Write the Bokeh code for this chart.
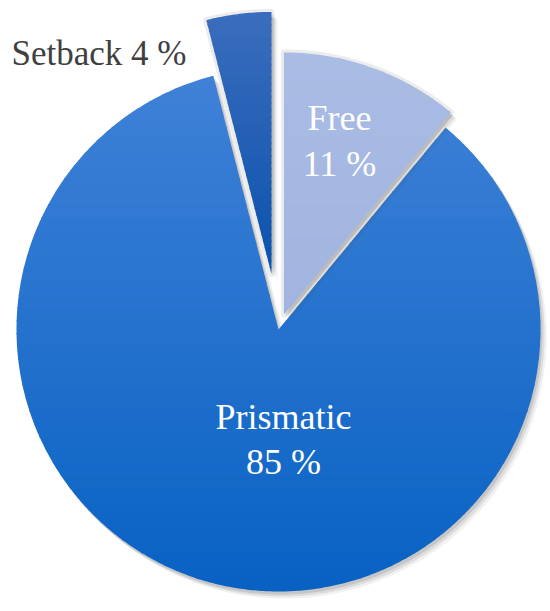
import numpy as np
from bokeh.plotting import figure
from bokeh.models import Range1d
from bokeh.embed import file_html
from bokeh.resources import INLINE
from bokeh.core.properties import value

# ---- data ----
categories = ["Free", "Prismatic", "Setback"]
shares = [11, 85, 4]
pct_labels = ["11 %", "85 %", "4 %"]

# ---- style / layout ----
W, H = 550, 611
cx, cy, R = 278, 282, 262
explode = [16, 0, 56]
top_colors = ["#A9BCE4", "#3F81D7", "#3B6DBD"]
bot_colors = ["#A1B4DF", "#0862C3", "#0A52AD"]
FONT = "Liberation Serif"

p = figure(width=W, height=H, x_range=Range1d(0, W), y_range=Range1d(0, H),
           output_backend="svg", toolbar_location=None, min_border=0)
p.axis.visible = False
p.grid.visible = False
p.outline_line_color = None
p.background_fill_color = "white"


def hex2rgb(h):
    h = h.lstrip("#")
    return np.array([int(h[i:i + 2], 16) for i in (0, 2, 4)], dtype=float)


def rgb2hex(c):
    return "#%02x%02x%02x" % tuple(int(round(v)) for v in c)


def wedge_poly(x0, y0, r, t1, t2):
    n = max(12, int((t2 - t1) * 2))
    ts = np.radians(np.linspace(t1, t2, n))
    xs = x0 + r * np.sin(ts)
    ys = y0 + r * np.cos(ts)
    return list(zip([x0] + list(xs), [y0] + list(ys)))


def _inter(a, b, y):
    t = (y - a[1]) / (b[1] - a[1])
    return (a[0] + t * (b[0] - a[0]), y)


def clip(poly, y, keep_above):
    out = []
    n = len(poly)
    for i in range(n):
        cur, prev = poly[i], poly[i - 1]
        cin = cur[1] >= y if keep_above else cur[1] <= y
        pin = prev[1] >= y if keep_above else prev[1] <= y
        if cin:
            if not pin:
                out.append(_inter(prev, cur, y))
            out.append(cur)
        elif pin:
            out.append(_inter(prev, cur, y))
    return out


total = float(sum(shares))
start = 0.0
order = [1, 0, 2]  # drawing order: Prismatic first, then exploded slices
geo = []
for i, s in enumerate(shares):
    t1 = start
    t2 = start + 360.0 * s / total
    mid = np.radians((t1 + t2) / 2)
    ax = cx + explode[i] * np.sin(mid)
    ay = cy + explode[i] * np.cos(mid)
    geo.append((ax, ay, t1, t2))
    start = t2

for i in order:
    ax, ay, t1, t2 = geo[i]
    # soft shadow (offset down-right)
    for (dx, dy, a) in [(6, -7, 0.08), (4, -5, 0.12), (2, -3, 0.16)]:
        sp = wedge_poly(ax + dx, ay + dy, R, t1, t2)
        p.patch([q[0] for q in sp], [q[1] for q in sp], fill_color="#505050",
                fill_alpha=a, line_color=None)
    if explode[i] > 0:
        # faint glow around the pulled-out slices
        sp = wedge_poly(ax, ay, R, t1, t2)
        p.patch([q[0] for q in sp], [q[1] for q in sp], fill_color=None,
                line_color="#8a8a8a", line_alpha=0.16, line_width=6,
                line_join="round")
    poly = wedge_poly(ax, ay, R, t1, t2)
    ys = [q[1] for q in poly]
    ymin, ymax = min(ys), max(ys)
    nb = 40
    edges = np.linspace(ymin, ymax, nb + 1)
    c_top, c_bot = hex2rgb(top_colors[i]), hex2rgb(bot_colors[i])
    bxs, bys, bcs = [], [], []
    for k in range(nb):
        lo, hi = edges[k] - 0.7, edges[k + 1] + 0.7
        part = clip(clip(poly, hi, False), lo, True)
        if len(part) < 3:
            continue
        f = ((edges[k] + edges[k + 1]) / 2 - ymin) / (ymax - ymin)
        bxs.append([q[0] for q in part])
        bys.append([q[1] for q in part])
        bcs.append(rgb2hex(c_bot + (c_top - c_bot) * f))
    p.patches(bxs, bys, fill_color=bcs, line_color=None)

# ---- labels ----
# Free (inside, white)
p.text(x=[339, 339], y=[494, 448], text=[categories[0], pct_labels[0]],
       text_font=value(FONT), text_font_size="36px", text_color="white",
       text_align="center", text_baseline="alphabetic")
# Prismatic (inside, white)
p.text(x=[283, 283], y=[195, 150], text=[categories[1], pct_labels[1]],
       text_font=value(FONT), text_font_size="36px", text_color="white",
       text_align="center", text_baseline="alphabetic")
# Setback (outside, dark gray)
p.text(x=[11], y=[558], text=[categories[2] + " " + pct_labels[2]],
       text_font=value(FONT), text_font_size="35px", text_color="#404040",
       text_align="left", text_baseline="alphabetic")

open("out.html", "w").write(file_html(p, INLINE))
